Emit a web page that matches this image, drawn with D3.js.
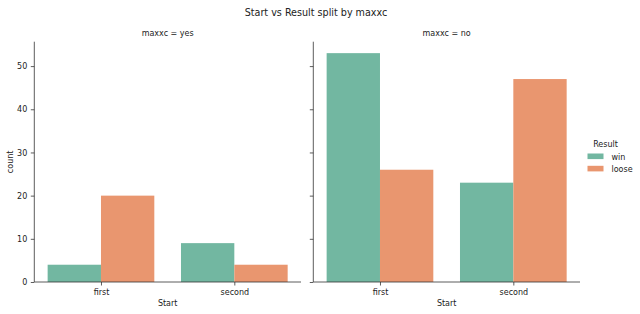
<!DOCTYPE html>
<html><head><meta charset="utf-8">
<script src="https://cdn.jsdelivr.net/npm/d3@7"></script>
<style>body{margin:0;background:#fff}svg{display:block;font-family:"DejaVu Sans",sans-serif}</style>
</head><body><svg id="c" width="640" height="314"></svg>
<script>
const facets = ["yes", "no"];
const categories = ["first", "second"];
const hues = ["win", "loose"];
const colors = ["#72b7a1", "#e9966f"];
const valuesYes = { win: [4, 9], loose: [20, 4] };
const valuesNo = { win: [53, 23], loose: [26, 47] };
const yTicks = [0, 10, 20, 30, 40, 50];
const facetValues = { yes: valuesYes, no: valuesNo };

const svg = d3.select("#c");
const plotTop = 41.7, plotBottom = 282;
const panels = [{ f: "yes", x0: 34.3, x1: 301 }, { f: "no", x0: 313.3, x1: 580 }];
const y = d3.scaleLinear().domain([0, 55.65]).range([plotBottom, plotTop]);
const axisColor = "#333";

svg.append("text").attr("x", 316).attr("y", 16).attr("text-anchor", "middle")
  .attr("font-size", 9.6).attr("fill", "#222").text("Start vs Result split by maxxc");

panels.forEach((p, pi) => {
  const g = svg.append("g");
  const x = d3.scaleBand().domain(categories).range([p.x0, p.x1]).paddingInner(0.2).paddingOuter(0.1);
  const xh = d3.scaleBand().domain(hues).range([0, x.bandwidth()]);
  const vals = facetValues[p.f];
  hues.forEach((h, hi) => {
    g.selectAll(null).data(categories).enter().append("rect")
      .attr("x", (c) => x(c) + xh(h))
      .attr("width", xh.bandwidth())
      .attr("y", (c, i) => y(vals[h][i]))
      .attr("height", (c, i) => plotBottom - y(vals[h][i]))
      .attr("fill", colors[hi]);
  });
  const ya = d3.axisLeft(y).tickValues(yTicks).tickSize(3.5).tickPadding(3.5)
    .tickFormat(pi === 0 ? d3.format("d") : () => "");
  const yg = g.append("g").attr("transform", `translate(${p.x0},0)`).call(ya);
  yg.select(".domain").remove();
  yg.selectAll("line").attr("stroke", axisColor).attr("stroke-width", 0.8);
  yg.selectAll("text").attr("font-size", 8).attr("fill", "#222").attr("font-family", "DejaVu Sans");
  g.append("line").attr("x1", p.x0).attr("x2", p.x0).attr("y1", plotTop).attr("y2", plotBottom)
    .attr("stroke", axisColor).attr("stroke-width", 0.8);
  const xScalePoint = d3.scalePoint().domain(categories).range([p.x0, p.x1]).padding(0.5);
  const xa = d3.axisBottom(xScalePoint).tickSize(3.5).tickPadding(3.5);
  const xg = g.append("g").attr("transform", `translate(0,${plotBottom})`).call(xa);
  xg.select(".domain").remove();
  xg.selectAll("line").attr("stroke", axisColor).attr("stroke-width", 0.8);
  xg.selectAll("text").attr("font-size", 8).attr("fill", "#222").attr("font-family", "DejaVu Sans");
  g.append("line").attr("x1", p.x0).attr("x2", p.x1).attr("y1", plotBottom).attr("y2", plotBottom)
    .attr("stroke", axisColor).attr("stroke-width", 0.8);
  g.append("text").attr("x", (p.x0 + p.x1) / 2).attr("y", 36).attr("text-anchor", "middle")
    .attr("font-size", 8).attr("fill", "#222").text("maxxc = " + p.f);
  g.append("text").attr("x", (p.x0 + p.x1) / 2).attr("y", 306).attr("text-anchor", "middle")
    .attr("font-size", 8).attr("fill", "#222").text("Start");
});

svg.append("text").attr("transform", `translate(13,${(plotTop + plotBottom) / 2}) rotate(-90)`)
  .attr("text-anchor", "middle").attr("font-size", 8).attr("fill", "#222").text("count");

const lg = svg.append("g");
lg.append("text").attr("x", 605.5).attr("y", 147).attr("text-anchor", "middle")
  .attr("font-size", 8).attr("fill", "#222").text("Result");
hues.forEach((h, i) => {
  lg.append("rect").attr("x", 587.5).attr("y", 153.5 + i * 12.3).attr("width", 16).attr("height", 5.6)
    .attr("fill", colors[i]);
  lg.append("text").attr("x", 611.5).attr("y", 159.5 + i * 12.3).attr("font-size", 8)
    .attr("fill", "#222").text(h);
});
</script></body></html>
